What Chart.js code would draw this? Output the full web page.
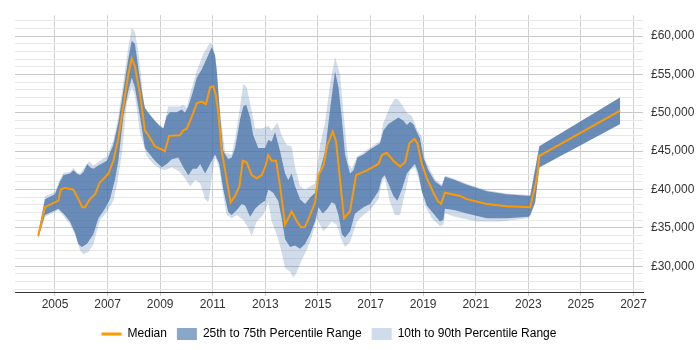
<!DOCTYPE html>
<html>
<head>
<meta charset="utf-8">
<script src="https://cdn.jsdelivr.net/npm/chart.js@4.4.1/dist/chart.umd.min.js"></script>
<style>
  html, body { margin: 0; padding: 0; background: #fff; }
  #wrap { width: 700px; height: 350px; }
</style>
</head>
<body>
<div id="wrap"><canvas id="c" width="700" height="350"></canvas></div>
<script>
// [year, salary]
const median = [
  [2004.36,33960],[2004.62,37710],[2005.13,38550],[2005.22,40000],[2005.38,40210],[2005.70,40000],
  [2005.89,38750],[2006.04,37710],[2006.14,37710],[2006.33,38750],[2006.52,39380],[2006.69,40830],
  [2007.03,42080],[2007.22,43750],[2007.41,46670],[2007.54,49580],[2007.79,55000],[2007.92,57080],
  [2008.04,56040],[2008.23,52500],[2008.42,47710],[2008.55,47080],[2008.80,45630],[2009.06,45210],
  [2009.18,45000],[2009.34,47000],[2009.75,47080],[2009.88,47710],[2010.01,47920],[2010.26,50000],
  [2010.39,51250],[2010.58,51460],[2010.74,51130],[2010.90,53330],[2011.02,53460],[2011.12,52290],
  [2011.21,50000],[2011.34,45000],[2011.47,42500],[2011.68,38330],[2011.85,39170],[2012.01,40420],
  [2012.14,43750],[2012.29,43540],[2012.48,41880],[2012.67,41460],[2012.86,41880],[2013.01,43130],
  [2013.11,44500],[2013.24,43750],[2013.41,43750],[2013.56,40420],[2013.75,35420],[2013.87,36250],
  [2014.00,37170],[2014.17,36040],[2014.35,35080],[2014.51,35130],[2014.70,36670],[2014.89,38330],
  [2015.02,41880],[2015.21,43130],[2015.36,45830],[2015.56,47580],[2015.69,46250],[2015.84,41250],
  [2015.99,36250],[2016.22,37170],[2016.45,41880],[2016.86,42500],[2017.30,43330],[2017.43,44500],
  [2017.62,44790],[2017.87,43750],[2018.12,43000],[2018.31,43540],[2018.48,46040],[2018.67,46580],
  [2018.78,46040],[2018.95,43330],[2019.14,41460],[2019.39,39580],[2019.58,38420],[2019.68,38130],
  [2019.83,39580],[2020.41,39170],[2020.66,38750],[2021.42,38130],[2022.18,37830],[2023.07,37710],
  [2023.26,40420],[2023.35,42080],[2023.42,44380],[2026.49,50290]
];
const p75 = [
  [2004.36,34200],[2004.62,38750],[2005.00,39380],[2005.19,41040],[2005.32,41880],[2005.57,42080],
  [2005.70,42500],[2005.83,42080],[2005.95,41880],[2006.08,42290],[2006.23,43330],[2006.33,42920],
  [2006.46,42710],[2006.65,43130],[2006.97,43750],[2007.22,45830],[2007.41,48750],[2007.60,52920],
  [2007.79,57080],[2007.92,59380],[2008.04,58960],[2008.17,55830],[2008.30,52920],[2008.42,50630],
  [2008.61,49790],[2008.80,48960],[2008.99,48330],[2009.12,48000],[2009.25,49580],[2009.37,50080],
  [2009.63,50080],[2009.82,50420],[2009.94,50000],[2010.07,50830],[2010.26,52920],[2010.39,54580],
  [2010.58,55630],[2010.77,57080],[2010.96,58540],[2011.09,57500],[2011.16,55200],[2011.28,49580],
  [2011.40,45000],[2011.59,43960],[2011.72,44170],[2011.85,45420],[2012.04,49170],[2012.16,50830],
  [2012.27,51040],[2012.42,49380],[2012.54,47080],[2012.73,45420],[2012.99,45420],[2013.11,46460],
  [2013.24,46250],[2013.37,47500],[2013.56,45000],[2013.75,42080],[2013.87,41250],[2014.00,42080],
  [2014.13,40420],[2014.32,38750],[2014.51,38130],[2014.70,38960],[2014.89,39580],[2015.08,42500],
  [2015.27,45000],[2015.46,50420],[2015.65,55420],[2015.78,53330],[2015.91,49170],[2016.03,44580],
  [2016.22,42080],[2016.35,42500],[2016.50,44170],[2016.73,44580],[2016.98,45210],[2017.36,46040],
  [2017.49,47710],[2017.68,48540],[2017.87,48960],[2018.06,49380],[2018.25,48960],[2018.38,48420],
  [2018.50,48830],[2018.63,48540],[2018.76,47500],[2018.88,46670],[2019.01,44170],[2019.20,42500],
  [2019.45,41040],[2019.71,40420],[2019.83,41670],[2020.21,41250],[2020.66,40630],[2021.42,39790],
  [2022.18,39380],[2023.07,39170],[2023.42,45630],[2026.49,52000]
];
const p25 = [
  [2004.36,33700],[2004.62,36670],[2005.13,37500],[2005.32,36880],[2005.57,35830],[2005.76,34380],
  [2005.89,32920],[2006.02,32500],[2006.21,32920],[2006.46,34170],[2006.65,36250],[2006.90,37500],
  [2007.09,38750],[2007.28,41250],[2007.41,43750],[2007.60,49580],[2007.79,52920],[2007.92,54580],
  [2008.04,53330],[2008.23,49580],[2008.42,45420],[2008.61,44580],[2008.80,43750],[2009.06,42920],
  [2009.25,43330],[2009.44,43960],[2009.69,44170],[2009.88,42920],[2010.07,41880],[2010.24,42710],
  [2010.39,42700],[2010.52,43330],[2010.71,42080],[2010.90,43330],[2011.09,44580],[2011.25,43330],
  [2011.40,40000],[2011.59,37080],[2011.72,36670],[2011.91,37290],[2012.10,38130],[2012.23,37920],
  [2012.42,36460],[2012.61,37500],[2012.80,38130],[2012.99,38540],[2013.11,40000],[2013.30,39580],
  [2013.49,38500],[2013.62,36250],[2013.75,33540],[2013.94,32500],[2014.13,32710],[2014.32,32290],
  [2014.51,32920],[2014.70,34170],[2014.89,35830],[2015.02,37710],[2015.18,36880],[2015.36,37500],
  [2015.52,38330],[2015.65,38130],[2015.78,36670],[2015.91,34170],[2016.03,33750],[2016.22,34580],
  [2016.41,36880],[2016.73,37710],[2016.98,38130],[2017.30,39790],[2017.43,41460],[2017.54,41880],
  [2017.67,40830],[2017.87,39170],[2018.02,38540],[2018.19,40000],[2018.38,42080],[2018.57,42920],
  [2018.69,43330],[2018.82,42080],[2018.95,39790],[2019.14,37920],[2019.39,36880],[2019.64,35830],
  [2019.77,36080],[2019.83,37500],[2020.21,37290],[2020.66,36880],[2021.42,36250],[2022.18,36250],
  [2023.00,36460],[2023.07,36670],[2023.26,38330],[2023.42,42920],[2026.49,48540]
];
const p90 = [
  [2004.36,34300],[2004.62,39100],[2005.00,39700],[2005.19,41300],[2005.32,42200],[2005.57,42300],
  [2005.70,42800],[2005.83,42300],[2005.95,42100],[2006.08,42700],[2006.30,43700],[2006.46,43100],
  [2006.65,43600],[2006.97,44300],[2007.22,46400],[2007.41,49600],[2007.60,54000],[2007.79,58600],
  [2007.92,61050],[2008.04,60600],[2008.17,57900],[2008.30,53950],[2008.36,51250],[2008.49,50000],
  [2008.74,49170],[2008.99,48130],[2009.12,47920],[2009.31,50830],[2009.75,50830],[2009.88,51040],
  [2010.01,50630],[2010.14,52500],[2010.39,55420],[2010.64,57710],[2010.90,59170],[2011.02,58750],
  [2011.15,55830],[2011.21,52500],[2011.34,48330],[2011.47,44800],[2011.72,44580],[2011.85,46670],
  [2012.04,50830],[2012.16,53750],[2012.29,53330],[2012.42,51250],[2012.61,47920],[2012.86,47920],
  [2013.11,48330],[2013.24,47710],[2013.46,48750],[2013.62,47080],[2013.81,45830],[2014.00,45630],
  [2014.13,42920],[2014.32,40420],[2014.51,40000],[2014.70,40420],[2014.89,40830],[2015.08,45830],
  [2015.27,48750],[2015.46,53750],[2015.65,57290],[2015.84,55000],[2015.97,50000],[2016.16,43330],
  [2016.29,42700],[2016.50,44380],[2016.73,44830],[2016.98,45460],[2017.36,46330],[2017.49,48750],
  [2017.74,50830],[2017.93,51880],[2018.06,51710],[2018.19,51040],[2018.38,50000],[2018.57,49580],
  [2018.76,47920],[2018.95,46880],[2019.07,43960],[2019.45,41330],[2019.71,40650],[2019.83,41830],
  [2020.21,41390],[2020.66,40770],[2021.42,39920],[2022.18,39500],[2023.07,39300],[2023.42,45690],
  [2026.49,52020]
];
const p10 = [
  [2004.36,33550],[2004.62,36460],[2005.13,37300],[2005.32,36600],[2005.57,35460],[2005.76,34170],
  [2005.95,32080],[2006.08,31580],[2006.27,31870],[2006.46,32920],[2006.71,36040],[2006.97,37080],
  [2007.22,38540],[2007.37,40830],[2007.54,44580],[2007.73,51250],[2007.92,53330],[2008.04,52290],
  [2008.23,47500],[2008.49,44380],[2008.74,43330],[2008.99,42710],[2009.18,42500],[2009.44,42920],
  [2009.75,42290],[2009.94,41460],[2010.14,40420],[2010.33,41250],[2010.52,40830],[2010.71,38750],
  [2010.83,38330],[2011.09,44330],[2011.25,42710],[2011.34,40420],[2011.53,36670],[2011.72,36250],
  [2011.91,36670],[2012.16,36040],[2012.35,35000],[2012.48,33960],[2012.67,35830],[2012.92,36670],
  [2013.11,38330],[2013.24,35830],[2013.43,34170],[2013.60,32080],[2013.75,29790],[2013.94,29330],
  [2014.06,28540],[2014.19,29170],[2014.38,30830],[2014.57,32080],[2014.76,33750],[2014.95,36250],
  [2015.08,35420],[2015.21,34580],[2015.33,35000],[2015.52,35830],[2015.71,35420],[2015.91,33330],
  [2016.03,32500],[2016.22,33130],[2016.48,35830],[2016.73,36670],[2016.98,37330],[2017.30,38750],
  [2017.44,41080],[2017.54,41460],[2017.74,38330],[2017.93,36670],[2018.12,36670],[2018.31,39580],
  [2018.50,42500],[2018.69,42920],[2018.88,40830],[2019.07,37920],[2019.33,36250],[2019.64,35210],
  [2019.77,35420],[2019.83,36880],[2020.21,36460],[2021.03,35830],[2021.92,35830],[2023.00,36250],
  [2023.07,36460],[2023.26,38270],[2023.42,42850],[2026.49,48520]
];
const xTickYears = [2005, 2007, 2009, 2011, 2013, 2015, 2017, 2019, 2021, 2023, 2025, 2027];
const seriesNames = ['Median', '25th to 75th Percentile Range', '10th to 90th Percentile Range'];

const toXY = arr => arr.map(p => ({ x: p[0], y: p[1] }));
const ORANGE = '#ff9900';
const DARK = 'rgba(69,114,167,0.75)';
const LIGHT = 'rgba(69,114,167,0.25)';
const FONT = "'Liberation Sans', Arial, sans-serif";

const legendFix = {
  id: 'legendFix',
  beforeInit(chart) {
    const orig = chart.legend.fit;
    chart.legend.fit = function () { orig.call(this); this.height = 32; };
  }
};

new Chart(document.getElementById('c'), {
  type: 'line',
  data: {
    datasets: [
      { label: seriesNames[0], data: toXY(median), borderColor: ORANGE, borderWidth: 2, pointRadius: 0, fill: false, tension: 0 },
      { label: seriesNames[1], data: toXY(p75), borderWidth: 0, borderColor: 'transparent', backgroundColor: DARK, pointRadius: 0, fill: '+1', tension: 0 },
      { label: 'p25', data: toXY(p25), borderWidth: 0, borderColor: 'transparent', pointRadius: 0, fill: false, tension: 0 },
      { label: seriesNames[2], data: toXY(p90), borderWidth: 0, borderColor: 'transparent', backgroundColor: LIGHT, pointRadius: 0, fill: '+1', tension: 0 },
      { label: 'p10', data: toXY(p10), borderWidth: 0, borderColor: 'transparent', pointRadius: 0, fill: false, tension: 0 }
    ]
  },
  options: {
    responsive: false,
    animation: false,
    layout: { padding: { left: 15, top: 5, right: 0, bottom: 0 } },
    plugins: {
      tooltip: { enabled: false },
      legend: {
        position: 'bottom',
        fullSize: false,
        labels: {
          usePointStyle: true,
          pointStyleWidth: 20,
          padding: 10,
          color: '#222',
          font: { family: FONT, size: 12 },
          generateLabels: () => [
            { text: seriesNames[0], pointStyle: 'line', strokeStyle: ORANGE, fillStyle: ORANGE, lineWidth: 3, datasetIndex: 0 },
            { text: seriesNames[1], pointStyle: 'rect', fillStyle: '#88a7c9', strokeStyle: 'rgba(0,0,0,0)', lineWidth: 0, datasetIndex: 1 },
            { text: seriesNames[2], pointStyle: 'rect', fillStyle: '#cfdcec', strokeStyle: 'rgba(0,0,0,0)', lineWidth: 0, datasetIndex: 3 }
          ]
        }
      }
    },
    scales: {
      x: {
        type: 'linear',
        min: 2003.48,
        max: 2027.36,
        afterBuildTicks: s => { s.ticks = xTickYears.map(v => ({ value: v })); },
        afterFit: s => { s.height = 26; },
        ticks: { autoSkip: false, maxRotation: 0, padding: 1, color: '#333', font: { family: FONT, size: 12 }, callback: v => String(v) },
        grid: { color: '#d0d0d0', tickLength: 4, drawTicks: true },
        border: { display: true, color: '#333', width: 1 }
      },
      y: {
        position: 'right',
        min: 26650,
        max: 62720,
        afterBuildTicks: s => { const t = []; for (let v = 27000; v <= 62000; v += 1000) t.push({ value: v }); s.ticks = t; },
        afterFit: s => { s.width = 57; },
        ticks: {
          autoSkip: false, padding: 8, color: '#333', font: { family: FONT, size: 12 },
          callback: v => (v % 5000 === 0 ? '£' + v.toLocaleString('en-GB') : '')
        },
        grid: {
          drawTicks: false,
          color: c => (c.tick && c.tick.value % 5000 === 0 ? '#c8c8c8' : '#e8e8e8')
        },
        border: { display: false }
      }
    }
  },
  plugins: [legendFix]
});
</script>
</body>
</html>
